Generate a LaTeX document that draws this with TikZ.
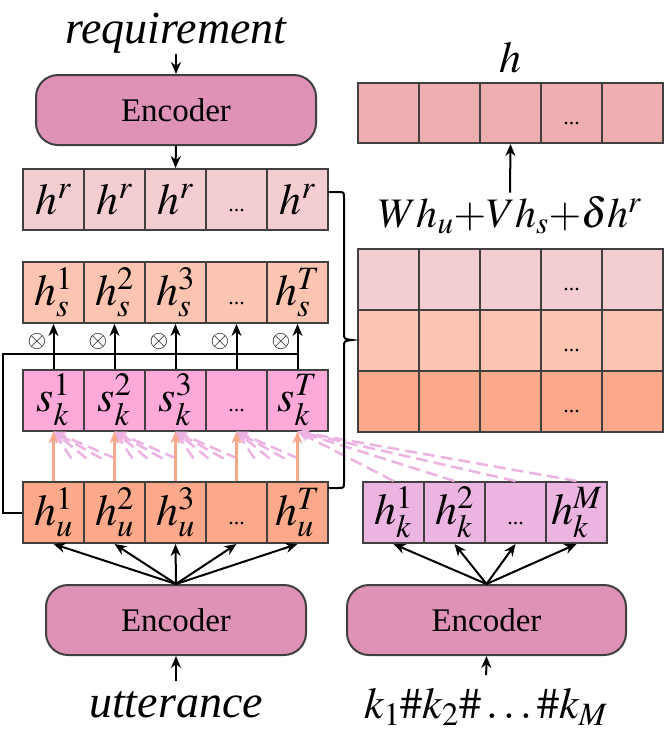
\documentclass[tikz,border=0pt]{standalone}
\usepackage{mathptmx}
\usepackage[no-math]{fontspec}
\setmainfont{Liberation Serif}
\usetikzlibrary{arrows.meta, positioning, calc}

\definecolor{cellline}{HTML}{404040}
\definecolor{reqfill}{HTML}{F4CDD0}
\definecolor{hsfill}{HTML}{FDC4B2}
\definecolor{skfill}{HTML}{FFA9DB}
\definecolor{hufill}{HTML}{FBA98A}
\definecolor{hkfill}{HTML}{ECB5E1}
\definecolor{encfill}{HTML}{DE93B6}
\definecolor{hfill}{HTML}{EFAFB1}
\definecolor{attline}{HTML}{F8A98C}
\definecolor{kwline}{HTML}{ECB3E2}

\newcommand{\celldots}{{\fontsize{22}{22}\selectfont\rule{0pt}{24pt}...}}

\begin{document}
\begin{tikzpicture}[x=1pt, y=-1pt, >={Stealth[length=12pt,width=10pt]},
  cell/.style={draw=cellline, line width=2pt, minimum width=61pt, minimum height=61pt, inner sep=0pt, font=\fontsize{44}{48}\selectfont},
  enc/.style={draw=cellline, line width=2pt, fill=encfill, rounded corners=22pt, minimum height=70pt, font=\fontsize{33}{36}\selectfont},
  lbl/.style={font=\fontsize{46}{50}\selectfont\itshape, inner sep=1pt},
  link/.style={->, line width=2pt},
  att/.style={->, attline, line width=2.5pt},
  kw/.style={->, kwline, line width=2.5pt, dash pattern=on 12pt off 6pt}]
  \useasboundingbox (0,0) rectangle (664,740);
  % left column
  \node[lbl] (req) at (176,33) {requirement};
  \node[enc, minimum width=280pt] (enc1) at (176,110) {Encoder};
  \foreach \i/\t in {1/{$h^r$},2/{$h^r$},3/{$h^r$},4/{\celldots},5/{$h^r$}}
    \node[cell, fill=reqfill] (hr\i) at (-7.5+61*\i,199.5) {\t};
  \foreach \i/\t in {1/{$h_s^1$},2/{$h_s^2$},3/{$h_s^3$},4/{\celldots},5/{$h_s^T$}}
    \node[cell, fill=hsfill] (hs\i) at (-7.5+61*\i,292.5) {\t};
  \foreach \i/\t in {1/{$s_k^1$},2/{$s_k^2$},3/{$s_k^3$},4/{\celldots},5/{$s_k^T$}}
    \node[cell, fill=skfill] (sk\i) at (-7.5+61*\i,400) {\t};
  \foreach \i/\t in {1/{$h_u^1$},2/{$h_u^2$},3/{$h_u^3$},4/{\celldots},5/{$h_u^T$}}
    \node[cell, fill=hufill] (hu\i) at (-7.5+61*\i,512.5) {\t};
  \node[enc, minimum width=260pt] (enc2) at (176,620) {Encoder};
  \node[lbl] (utt) at (176,705) {utterance};
  % keywords
  \foreach \j/\t in {1/{$h_k^1$},2/{$h_k^2$},3/{\celldots},4/{$h_k^M$}}
    \node[cell, fill=hkfill] (hk\j) at (332.5+61*\j,512.5) {\t};
  \node[enc, minimum width=279pt] (enc3) at (486.5,620) {Encoder};
  \node[font=\fontsize{44}{48}\selectfont] (kws) at (486,707) {$k_1\#k_2\#\ldots\#k_M$};
  % fusion
  \node[font=\fontsize{44}{48}\selectfont] (hlbl) at (510,58) {$h$};
  \foreach \i in {1,...,5}
    \node[cell, fill=hfill, minimum height=60pt] (hh\i) at (327.5+61*\i,113) {\ifnum\i=4 \celldots\fi};
  \node[font=\fontsize{42}{46}\selectfont] (form) at (510,215) {$Wh_u{+}Vh_s{+}\delta h^r$};
  \foreach \r/\c in {1/reqfill,2/hsfill,3/hufill}
    \foreach \i in {1,...,5}
      \node[cell, fill=\c] (g\r\i) at (327.5+61*\i,218+61*\r) {\ifnum\i=4 \celldots\fi};
  % connectors
  \draw[link] (req.south) -- (enc1.north);
  \draw[link] (enc1.south) -- (hr3.north);
  \draw[link, shorten <=10pt] (utt.north) -- (enc2.south);
  \draw[link, shorten <=10pt] (kws.north) -- (enc3.south);
  \draw[link] (form.north) -- (hh3.south);
  \foreach \i in {1,...,5} \draw[link] (enc2.north) -- (hu\i.south);
  \foreach \j in {1,...,4} \draw[link] (enc3.north) -- (hk\j.south);
  \foreach \i in {1,...,4}
    \foreach \d in {18,33,48,62} {
      \coordinate (kw\i-\d) at ($(sk\i.south)+(\d,27)$);
      \draw[kw] (kw\i-\d) -- (sk\i.south);
    }
  \foreach \j in {1,...,4} \draw[kw] (hk\j.north) -- (sk5.south);
  \foreach \i in {1,...,5} \draw[att] (hu\i.north) -- (sk\i.south);
  \coordinate (lp) at (3,354);
  \draw[line width=2pt] (hu1.west) -| (lp) -- (lp -| hs5.south);
  \foreach \i in {1,...,5} {
    \draw[link] (sk\i.north) -- (hs\i.south);
    \node[font=\fontsize{24}{24}\selectfont, inner sep=0pt] at ($(hs\i.south)+(-16.5,17)$) {$\otimes$};
  }
  % brace
  \draw[line width=2pt] (328,192) -- (338,192) .. controls (344,192) .. (344,198) -- (344,333)
    .. controls (344,339) .. (352,340) .. controls (344,341) .. (344,347) -- (344,482)
    .. controls (344,488) .. (338,488) -- (328,488);
\end{tikzpicture}
\end{document}
